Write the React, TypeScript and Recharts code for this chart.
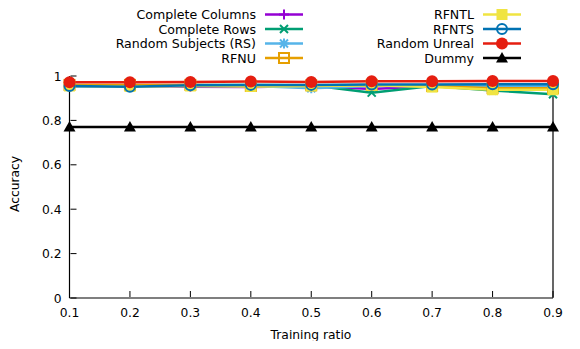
import { LineChart, Line, XAxis, YAxis } from 'recharts'

const ratios = [0.1, 0.2, 0.3, 0.4, 0.5, 0.6, 0.7, 0.8, 0.9]
const completeColumns = [0.955, 0.955, 0.952, 0.95, 0.955, 0.942, 0.955, 0.958, 0.96]
const completeRows = [0.958, 0.955, 0.96, 0.96, 0.958, 0.925, 0.955, 0.935, 0.918]
const randomSubjects = [0.953, 0.953, 0.955, 0.955, 0.945, 0.955, 0.955, 0.955, 0.955]
const rfnu = [0.96, 0.96, 0.96, 0.955, 0.958, 0.96, 0.955, 0.945, 0.945]
const rfntl = [0.955, 0.953, 0.955, 0.953, 0.955, 0.958, 0.95, 0.938, 0.938]
const rfnts = [0.955, 0.952, 0.958, 0.96, 0.96, 0.962, 0.962, 0.963, 0.963]
const randomUnreal = [0.972, 0.972, 0.973, 0.975, 0.973, 0.976, 0.976, 0.977, 0.978]
const dummy = [0.77, 0.77, 0.77, 0.77, 0.77, 0.77, 0.77, 0.77, 0.77]

const xTicks = [0.1, 0.2, 0.3, 0.4, 0.5, 0.6, 0.7, 0.8, 0.9]
const yTicks = [0, 0.2, 0.4, 0.6, 0.8, 1]

type MarkerKind = 'plus' | 'cross' | 'star' | 'square' | 'fsquare' | 'circle' | 'fcircle' | 'triangle'

const series: { key: string; name: string; color: string; marker: MarkerKind; values: number[] }[] = [
  { key: 'cc', name: 'Complete Columns', color: '#9400d3', marker: 'plus', values: completeColumns },
  { key: 'cr', name: 'Complete Rows', color: '#009e73', marker: 'cross', values: completeRows },
  { key: 'rs', name: 'Random Subjects (RS)', color: '#56b4e9', marker: 'star', values: randomSubjects },
  { key: 'rfnu', name: 'RFNU', color: '#e69f00', marker: 'square', values: rfnu },
  { key: 'rfntl', name: 'RFNTL', color: '#f0e442', marker: 'fsquare', values: rfntl },
  { key: 'rfnts', name: 'RFNTS', color: '#0072b2', marker: 'circle', values: rfnts },
  { key: 'ru', name: 'Random Unreal', color: '#e51e10', marker: 'fcircle', values: randomUnreal },
  { key: 'dummy', name: 'Dummy', color: '#000000', marker: 'triangle', values: dummy },
]

const data = ratios.map((r, i) => {
  const row: Record<string, number> = { ratio: r }
  series.forEach((s) => { row[s.key] = s.values[i] })
  return row
})

const FONT = '"DejaVu Sans", sans-serif'
const FS = 12.3
const KEY_FS = 12.6

function Marker({ kind, cx, cy, color }: { kind: MarkerKind; cx: number; cy: number; color: string }) {
  const sw = 2
  switch (kind) {
    case 'plus':
      return <path d={`M${cx - 5},${cy}H${cx + 5}M${cx},${cy - 5}V${cy + 5}`} stroke={color} strokeWidth={sw} />
    case 'cross':
      return <path d={`M${cx - 4},${cy - 4}L${cx + 4},${cy + 4}M${cx - 4},${cy + 4}L${cx + 4},${cy - 4}`} stroke={color} strokeWidth={sw} />
    case 'star':
      return (
        <path
          d={`M${cx - 5},${cy}H${cx + 5}M${cx},${cy - 5}V${cy + 5}M${cx - 4},${cy - 4}L${cx + 4},${cy + 4}M${cx - 4},${cy + 4}L${cx + 4},${cy - 4}`}
          stroke={color}
          strokeWidth={sw}
        />
      )
    case 'square':
      return <rect x={cx - 5} y={cy - 5} width={10} height={10} fill="none" stroke={color} strokeWidth={sw} />
    case 'fsquare':
      return <rect x={cx - 5.5} y={cy - 5.5} width={11} height={11} fill={color} />
    case 'circle':
      return <circle cx={cx} cy={cy} r={5} fill="none" stroke={color} strokeWidth={sw} />
    case 'fcircle':
      return <circle cx={cx} cy={cy} r={6} fill={color} />
    case 'triangle':
      return <path d={`M${cx},${cy - 6}L${cx + 6},${cy + 4.5}L${cx - 6},${cy + 4.5}Z`} fill={color} />
  }
}

// gnuplot-style ticks: label outside, tick mark pointing into the plot
function XTick(props: any) {
  const { x, y, payload } = props
  return (
    <g>
      <line x1={x} x2={x} y1={y - 1} y2={y - 7} stroke="#000" strokeWidth={1} />
      <text x={x} y={y + 19} textAnchor="middle" fontSize={FS} fontFamily={FONT} fill="#000">
        {payload.value}
      </text>
    </g>
  )
}

function YTick(props: any) {
  const { x, y, payload } = props
  return (
    <g>
      <line x1={x + 1} x2={x + 7} y1={y} y2={y} stroke="#000" strokeWidth={1} />
      <text x={x - 8} y={y + 4.5} textAnchor="end" fontSize={FS} fontFamily={FONT} fill="#000">
        {payload.value}
      </text>
    </g>
  )
}

function RightTick(props: any) {
  const { x, y } = props
  return <line x1={x - 1} x2={x - 7} y1={y} y2={y} stroke="#000" strokeWidth={1} />
}

function TopTick(props: any) {
  const { x, y } = props
  return <line x1={x} x2={x} y1={y + 1} y2={y + 7} stroke="#000" strokeWidth={1} />
}

function KeyBox() {
  const cols = [
    { textX: 256, lineX1: 265, lineX2: 303 },
    { textX: 474, lineX1: 483, lineX2: 521 },
  ]
  const rowY = [14.5, 29, 43.5, 58]
  return (
    <svg width={580} height={70} style={{ position: 'absolute', left: 0, top: 0 }}>
      {series.map((s, i) => {
        const c = cols[Math.floor(i / 4)]
        const y = rowY[i % 4]
        const mx = (c.lineX1 + c.lineX2) / 2
        return (
          <g key={s.key}>
            <text x={c.textX} y={y + 4.5} textAnchor="end" fontSize={KEY_FS} fontFamily={FONT} fill="#000">
              {s.name}
            </text>
            <line x1={c.lineX1} x2={c.lineX2} y1={y} y2={y} stroke={s.color} strokeWidth={2.5} />
            <Marker kind={s.marker} cx={mx} cy={y} color={s.color} />
          </g>
        )
      })}
    </svg>
  )
}

function AxisTitles() {
  return (
    <svg width={580} height={349} style={{ position: 'absolute', left: 0, top: 0, pointerEvents: 'none' }}>
      <text x={311} y={339} textAnchor="middle" fontSize={FS} fontFamily={FONT} fill="#000">
        Training ratio
      </text>
      <text x={0} y={0} transform="translate(18.5,184) rotate(-90)" textAnchor="middle" fontSize={FS} fontFamily={FONT} fill="#000">
        Accuracy
      </text>
    </svg>
  )
}

export default function App() {
  return (
    <div style={{ position: 'relative', width: 580, height: 349, margin: -8, background: '#fff' }}>
      <LineChart width={580} height={349} data={data} margin={{ top: 76, right: 26, bottom: 0, left: 0 }}>
        <XAxis
          xAxisId="top"
          orientation="top"
          dataKey="ratio"
          type="number"
          domain={[0.1, 0.9]}
          ticks={xTicks}
          height={0}
          tickLine={false}
          tick={<TopTick />}
          stroke="#000"
          strokeWidth={1.2}
        />
        <XAxis
          dataKey="ratio"
          type="number"
          domain={[0.1, 0.9]}
          ticks={xTicks}
          height={51}
          tickLine={false}
          tickSize={0}
          tickMargin={0}
          tick={<XTick />}
          stroke="#000"
          strokeWidth={1.2}
        />
        <YAxis
          type="number"
          domain={[0, 1]}
          ticks={yTicks}
          width={69.5}
          tickLine={false}
          tickSize={0}
          tickMargin={0}
          tick={<YTick />}
          stroke="#000"
          strokeWidth={1.2}
        />
        <YAxis
          yAxisId="right"
          orientation="right"
          type="number"
          domain={[0, 1]}
          ticks={yTicks}
          width={1}
          tickLine={false}
          tickSize={0}
          tickMargin={0}
          tick={<RightTick />}
          stroke="#000"
          strokeWidth={1.2}
        />
        {series.map((s) => (
          <Line
            key={s.key}
            dataKey={s.key}
            name={s.name}
            stroke={s.color}
            strokeWidth={2.5}
            isAnimationActive={false}
            dot={(p: any) => <Marker key={`${s.key}-${p.index}`} kind={s.marker} cx={p.cx} cy={p.cy} color={s.color} />}
            activeDot={false}
          />
        ))}
      </LineChart>
      <AxisTitles />
      <KeyBox />
    </div>
  )
}
